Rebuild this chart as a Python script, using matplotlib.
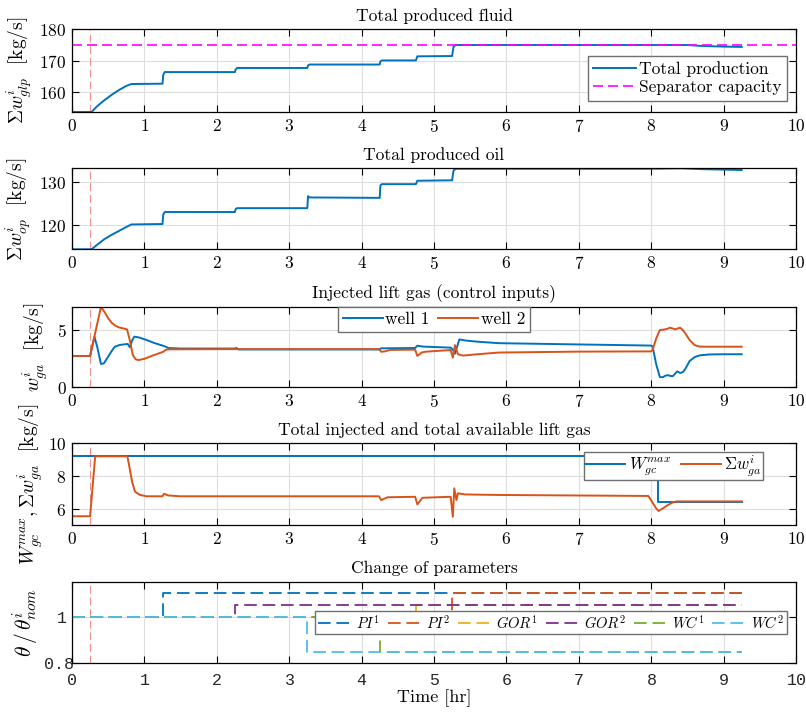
import matplotlib
matplotlib.use("Agg")
import matplotlib.pyplot as plt
import matplotlib.transforms as mtransforms

plt.rcParams['font.family'] = 'serif'
plt.rcParams['font.serif'] = ['cmr10', 'DejaVu Serif']
plt.rcParams['mathtext.fontset'] = 'cm'
plt.rcParams['axes.formatter.use_mathtext'] = True
plt.rcParams['axes.unicode_minus'] = False

BLUE = '#0072BD'
ORANGE = '#D95319'
YELLOW = '#EDB120'
PURPLE = '#7E2F8E'
GREEN = '#77AC30'
CYAN = '#4DBEEE'

# ---- data ----
t_event = 0.25                     # start of the optimisation (hr)
sep_capacity = 175.0               # separator capacity (kg/s)

t_fluid = [0, 0.27, 0.35, 0.45, 0.55, 0.65, 0.75, 0.82, 1.25, 1.26, 1.28, 2.25, 2.26, 2.28,
           3.25, 3.26, 3.28, 4.25, 4.26, 4.28, 4.75, 4.77, 5.25, 5.27, 5.30, 8.5, 8.7, 9.0, 9.25]
fluid = [153.7, 153.7, 155.6, 157.5, 159.2, 160.7, 162.0, 162.6, 162.7, 165.5, 166.4, 166.4, 167.2, 167.7,
         167.7, 168.5, 168.8, 168.8, 169.8, 170.1, 170.1, 171.4, 171.5, 174.5, 175.0, 175.0, 174.7, 174.5, 174.4]

t_oil = [0, 0.27, 0.35, 0.45, 0.55, 0.65, 0.75, 0.82, 1.25, 1.26, 1.28, 2.25, 2.26, 2.28,
         3.25, 3.26, 3.28, 4.25, 4.26, 4.28, 4.75, 4.77, 5.25, 5.27, 5.30, 8.0, 8.4, 8.7, 9.25]
oil = [114.4, 114.4, 115.5, 116.8, 117.8, 118.7, 119.6, 120.2, 120.3, 122.5, 123.1, 123.1, 123.8, 124.0,
       124.0, 126.8, 126.5, 126.4, 129.3, 129.6, 129.6, 130.4, 130.5, 132.8, 133.2, 133.2, 133.3, 133.1, 132.9]

t_w1 = [0, 0.25, 0.31, 0.35, 0.40, 0.44, 0.50, 0.55, 0.59, 0.65, 0.70, 0.77, 0.80, 0.83, 0.86, 0.92,
        1.03, 1.13, 1.23, 1.28, 1.33, 1.5, 2.25, 2.27, 2.30, 4.24, 4.27, 4.35, 4.74, 4.77, 4.85, 5.23,
        5.26, 5.29, 5.35, 5.44, 5.6, 5.9, 7.0, 8.0, 8.02, 8.07, 8.12, 8.16, 8.19, 8.23, 8.26, 8.30,
        8.33, 8.36, 8.40, 8.44, 8.47, 8.53, 8.60, 8.67, 8.8, 9.0, 9.25]
w1 = [2.75, 2.75, 4.44, 3.5, 2.04, 2.1, 2.7, 3.2, 3.55, 3.7, 3.75, 3.8, 3.5, 4.1, 4.44, 4.38,
      4.15, 3.9, 3.7, 3.6, 3.45, 3.4, 3.4, 3.45, 3.32, 3.32, 3.42, 3.42, 3.45, 3.65, 3.57, 3.48,
      3.3, 2.95, 4.2, 4.1, 4.0, 3.87, 3.76, 3.66, 3.55, 2.0, 0.9, 0.88, 1.0, 1.07, 1.0, 0.98,
      1.2, 1.4, 1.25, 1.35, 1.6, 2.3, 2.65, 2.8, 2.88, 2.9, 2.9]

t_w2 = [0, 0.25, 0.40, 0.45, 0.50, 0.55, 0.60, 0.65, 0.72, 0.76, 0.80, 0.84, 0.88, 0.92, 1.0,
        1.1, 1.21, 1.26, 1.30, 1.35, 2.25, 4.24, 4.27, 4.32, 4.40, 4.74, 4.77, 4.83, 4.88, 5.23,
        5.26, 5.29, 5.33, 5.40, 5.6, 5.9, 7.0, 8.0, 8.02, 8.07, 8.12, 8.16, 8.19, 8.23, 8.26, 8.30,
        8.33, 8.36, 8.40, 8.44, 8.47, 8.53, 8.60, 8.67, 8.8, 9.0, 9.25]
w2 = [2.75, 2.75, 7.05, 6.6, 6.05, 5.65, 5.4, 5.25, 5.15, 5.08, 4.1, 2.83, 2.45, 2.39, 2.5,
      2.75, 3.0, 3.12, 3.3, 3.33, 3.35, 3.35, 3.12, 3.15, 3.28, 3.3, 2.75, 3.05, 3.12, 3.27,
      2.6, 3.7, 2.9, 2.78, 2.9, 3.05, 3.13, 3.15, 3.3, 4.3, 5.03, 5.05, 5.08, 5.15, 5.23, 5.15,
      5.08, 5.15, 5.23, 5.0, 4.74, 4.15, 3.7, 3.57, 3.56, 3.56, 3.56]

t_gmax = [0, 8.1, 8.1, 9.25]
gas_max = [9.21, 9.21, 6.46, 6.46]

t_gsum = [0, 0.25, 0.32, 0.765, 0.80, 0.83, 0.87, 0.94, 1.03, 1.25, 1.27, 1.33, 1.49, 4.24, 4.27,
          4.36, 4.74, 4.77, 4.84, 5.23, 5.26, 5.28, 5.31, 5.33, 5.43, 5.9, 7.96, 8.07, 8.10, 8.16,
          8.23, 8.30, 8.35, 9.25]
gas_sum = [5.58, 5.58, 9.21, 9.21, 8.4, 7.67, 7.07, 6.87, 6.79, 6.79, 6.94, 6.84, 6.79, 6.79, 6.56,
           6.73, 6.76, 6.3, 6.7, 6.76, 5.55, 7.27, 6.56, 6.97, 6.9, 6.87, 6.81, 6.05, 5.9, 6.05,
           6.26, 6.42, 6.48, 6.48]

# relative parameter changes (step profiles)
param_names = ['$PI^1$', '$PI^2$', '$GOR^1$', '$GOR^2$', '$WC^1$', '$WC^2$']
param_colors = [BLUE, ORANGE, YELLOW, PURPLE, GREEN, CYAN]
param_t = [[0, 1.25, 1.25, 9.25],
           [0, 5.25, 5.25, 9.25],
           [0, 4.75, 4.75, 9.25],
           [0, 2.25, 2.25, 9.2],
           [0, 4.25, 4.25, 9.25],
           [0, 3.25, 3.25, 9.25]]
param_v = [[1, 1, 1.10, 1.10],
           [1, 1, 1.10, 1.10],
           [1, 1, 1.05, 1.05],
           [1, 1, 1.05, 1.05],
           [1, 1, 0.85, 0.85],
           [1, 1, 0.85, 0.85]]

xticks = list(range(0, 11))

# ---- figure ----
W, H = 806, 713
fig = plt.figure(figsize=(W / 100, H / 100), dpi=100)

def make_axes(top_px, bottom_px):
    left, right = 72, 796
    return fig.add_axes([left / W, 1 - bottom_px / H, (right - left) / W, (bottom_px - top_px) / H])

ax1 = make_axes(29.3, 112)
ax2 = make_axes(168.3, 249.3)
ax3 = make_axes(306.7, 387.3)
ax4 = make_axes(443.3, 525)
ax5 = make_axes(581.7, 663.3)

LW = 1.4
TICK_FS = 12.5
LABEL_FS = 14

def style(ax, title):
    ax.set_xlim(0, 10)
    ax.set_xticks(xticks)
    ax.grid(True, color='#dedede', lw=0.8)
    ax.set_axisbelow(True)
    ax.tick_params(direction='in', length=5, width=0.8, top=True, right=True,
                   labelsize=TICK_FS, color='black', pad=4)
    for s in ax.spines.values():
        s.set_linewidth(0.9)
    ax.set_title(title, fontsize=12.5, pad=6)
    ax.axvline(t_event, color='#F29090', lw=0.8, ls=(0, (7, 3.5)), zorder=1.5)

def legend_style(leg):
    fr = leg.get_frame()
    fr.set_edgecolor('#707070')
    fr.set_linewidth(1.0)
    fr.set_boxstyle('square', pad=0)

# 1: total produced fluid
style(ax1, 'Total produced fluid')
ax1.plot(t_fluid, fluid, color=BLUE, lw=LW, label='Total production')
ax1.axhline(sep_capacity, color='#FF00FF', lw=1.2, ls=(0, (6, 3)), label='Separator capacity')
ax1.set_ylim(153.7, 180)
ax1.set_yticks([160, 170, 180])
ax1.set_ylabel(r'$\Sigma w^i_{glp}$  [kg/s]', fontsize=LABEL_FS)
ax1.yaxis.set_label_coords(-0.052, 0.5)
leg = ax1.legend(loc='lower right', bbox_to_anchor=(0.987, 0.137), borderaxespad=0,
                 fontsize=12.5, framealpha=1, handlelength=2.5, handletextpad=0.15,
                 borderpad=0.3, labelspacing=0.2, fancybox=False)
legend_style(leg)

# 2: total produced oil
style(ax2, 'Total produced oil')
ax2.plot(t_oil, oil, color=BLUE, lw=LW)
ax2.set_ylim(114.4, 133.3)
ax2.set_yticks([120, 130])
ax2.set_ylabel(r'$\Sigma w^i_{op}$  [kg/s]', fontsize=LABEL_FS)
ax2.yaxis.set_label_coords(-0.054, 0.5)

# 3: injected lift gas per well
style(ax3, 'Injected lift gas (control inputs)')
ax3.plot(t_w1, w1, color=BLUE, lw=LW, label='well 1')
ax3.plot(t_w2, w2, color=ORANGE, lw=LW, label='well 2')
ax3.set_ylim(0, 7.07)
ax3.set_yticks([0, 5])
ax3.set_ylabel(r'$w^i_{ga}$  [kg/s]', fontsize=LABEL_FS)
ax3.yaxis.set_label_coords(-0.030, 0.5)
leg = ax3.legend(loc='upper center', ncol=2, fontsize=12.5, framealpha=1, handlelength=2.3,
                 handletextpad=0.15, columnspacing=0.5, borderpad=0.3, borderaxespad=0.0,
                 fancybox=False)
legend_style(leg)

# 4: total injected vs available lift gas
style(ax4, 'Total injected and total available lift gas')
ax4.plot(t_gmax, gas_max, color=BLUE, lw=LW, label=r'$W^{max}_{gc}$')
ax4.plot(t_gsum, gas_sum, color=ORANGE, lw=LW, label=r'$\Sigma w^i_{ga}$')
ax4.set_ylim(5.05, 10)
ax4.set_yticks([6, 8, 10])
ax4.set_ylabel(r'$W^{max}_{gc}, \Sigma w^i_{ga}$  [kg/s]', fontsize=LABEL_FS)
ax4.yaxis.set_label_coords(-0.037, 0.5)
leg = ax4.legend(loc='upper right', bbox_to_anchor=(0.955, 0.897), borderaxespad=0, ncol=2,
                 fontsize=12, framealpha=1, handlelength=2.4, handletextpad=0.2,
                 columnspacing=0.6, borderpad=0.1, fancybox=False)
legend_style(leg)

# 5: parameter changes
style(ax5, 'Change of parameters')
for tt, vv, name, c in zip(param_t, param_v, param_names, param_colors):
    ax5.plot(tt, vv, color=c, lw=1.3, ls=(0, (7.0, 3.2)), label=name)
ax5.set_ylim(0.8, 1.15)
ax5.set_yticks([0.8, 1.0])
ax5.set_yticklabels(['0.8', '1'])
ax5.tick_params(axis='x', pad=7)
for lab in ax5.get_xticklabels() + ax5.get_yticklabels():
    lab.set_fontfamily('Liberation Mono')
    lab.set_fontsize(12)
    lab.set_color('#262626')
ylabs = ax5.get_yticklabels()
ylabs[0].set_transform(ylabs[0].get_transform() +
                       mtransforms.ScaledTranslation(0.08, 0, fig.dpi_scale_trans))
ax5.set_ylabel(r'$\theta\,/\,\theta^i_{nom}$', fontsize=15.5)
ax5.yaxis.set_label_coords(-0.044, 0.5)
ax5.set_xlabel('Time [hr]', fontsize=13, labelpad=1)
leg = ax5.legend(loc='center right', bbox_to_anchor=(0.987, 0.50), borderaxespad=0, ncol=6,
                 fontsize=10.5, framealpha=1, handlelength=2.45, handletextpad=0.2,
                 columnspacing=0.5, borderpad=0.2, fancybox=False)
legend_style(leg)

fig.savefig('out.png', dpi=100)
